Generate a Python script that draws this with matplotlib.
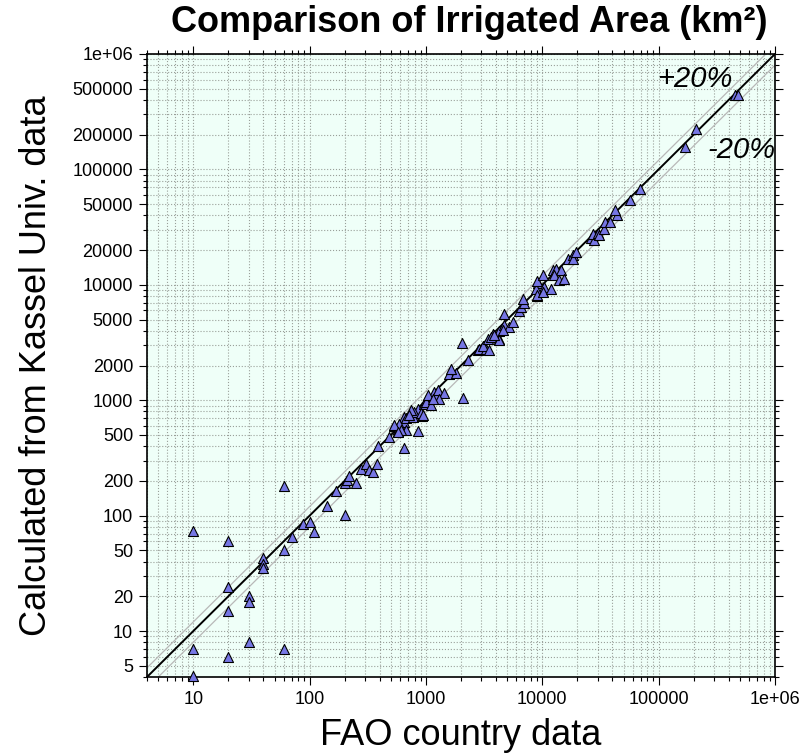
"""
Irrigated area per country: FAO statistics vs. values calculated from the
Kassel University global map of irrigation areas (log-log, with +-20% bands).
"""

import numpy as np
import matplotlib
matplotlib.use("Agg")
import matplotlib.pyplot as plt
import matplotlib.ticker as ticker

plt.rcParams["font.family"] = ["Liberation Sans", "DejaVu Sans"]

# --- data (km2) --------------------------------------------------------------
small_fao    = [10, 20, 60, 20, 30, 30, 20, 40, 40, 40, 60, 70, 88, 100, 110,
                140, 170, 200, 200, 210, 250, 10, 20, 30, 60, 10]
small_kassel = [74, 60, 180, 24, 20, 18, 15, 43, 38, 35, 50, 65, 84, 88, 72,
                121, 165, 102, 190, 203, 192, 7, 6, 8, 7, 4.1]

mid_fao    = [220, 276, 305, 325, 354, 383, 386, 483, 533, 570, 612, 580, 630,
              650, 650, 650, 672, 672, 743, 767, 847, 847, 924, 1000, 966, 1000,
              1100, 792, 743, 905, 935, 720, 592, 535, 612, 570]
mid_kassel = [221, 256, 279, 248, 239, 283, 400, 481, 596, 568, 606, 540, 620,
              717, 650, 382, 550, 695, 776, 717, 539, 848, 726, 1000, 935, 967,
              905, 792, 820, 776, 740, 740, 628, 606, 557, 533]

upper_fao    = [1180, 1300, 1220, 1050, 1260, 1440, 1300, 1140, 2080, 1590,
                1810, 1640, 2290, 2790, 2880, 3280, 3070, 2030, 3390, 4270,
                3750, 4270, 4720, 5210, 3510, 3630, 4220, 3870, 4560, 5560,
                4720, 6360, 6580, 7030, 6790, 8960]
upper_kassel = [1180, 1150, 1080, 1100, 1220, 1150, 1035, 1035, 1050, 1680,
                1720, 1880, 2220, 2710, 2800, 2800, 2940, 3160, 3420, 3420,
                3720, 4000, 4480, 4320, 2750, 3530, 3350, 3650, 4040, 4770,
                5630, 5930, 6420, 6950, 7590, 7940]

large_fao    = [9120, 10400, 8900, 9080, 10100, 11800, 8960, 10100, 12300,
                13200, 14500, 12700, 13800, 15500, 16600, 18300, 18300, 19300,
                26300, 28100, 27100, 30000, 30600, 33600, 34700, 37900, 43700,
                42300, 56200, 69800, 169000, 208000, 450000, 481000]
large_kassel = [10400, 9570, 9270, 8110, 8660, 9270, 10800, 12100, 13500,
                13800, 13500, 12100, 11100, 11300, 16900, 18000, 16900, 19200,
                25400, 24300, 27800, 28300, 26900, 30700, 35000, 35000, 40000,
                44800, 54000, 68100, 156000, 225000, 437000, 437000]

x_major = [10, 100, 1000, 10000, 100000, 1000000]
y_major = [5, 10, 20, 50, 100, 200, 500, 1000, 2000, 5000, 10000, 20000,
           50000, 100000, 200000, 500000, 1000000]

LIM = (4, 1e6)


def _fmt(v, pos=None):
    return "1e+06" if v >= 1e6 else f"{int(round(v))}"


def main():
    fao = np.array(small_fao + mid_fao + upper_fao + large_fao, dtype=float)
    kas = np.array(small_kassel + mid_kassel + upper_kassel + large_kassel, dtype=float)

    fig = plt.figure(figsize=(8.04, 7.53), dpi=100)
    ax = fig.add_axes([0.1828, 0.1009, 0.7811, 0.8274])
    ax.set_facecolor("#effff8")
    ax.set_xscale("log")
    ax.set_yscale("log")
    ax.set_xlim(*LIM)
    ax.set_ylim(*LIM)

    ref = np.array(LIM)
    ax.plot(ref, 1.2 * ref, color="#b8b8b8", lw=0.9, zorder=2)
    ax.plot(ref, 0.8 * ref, color="#b8b8b8", lw=0.9, zorder=2)
    ax.plot(ref, ref, color="black", lw=1.4, zorder=3)

    ax.scatter(fao, kas, marker="^", s=52, facecolor="#7676e4",
               edgecolor="black", linewidth=0.8, zorder=4, clip_on=False)

    ax.text(2.04e5, 6.1e5, "+20%", fontsize=21, style="italic",
            ha="center", va="center")
    ax.text(5.16e5, 1.46e5, "-20%", fontsize=21, style="italic",
            ha="center", va="center")

    # ticks
    ax.xaxis.set_major_locator(ticker.FixedLocator(x_major))
    ax.xaxis.set_minor_locator(ticker.LogLocator(base=10, subs=np.arange(2, 10), numticks=20))
    ax.xaxis.set_major_formatter(ticker.FuncFormatter(_fmt))
    ax.xaxis.set_minor_formatter(ticker.NullFormatter())

    y_minor = [m * 10.0 ** e for e in range(0, 6) for m in (3, 4, 6, 7, 8, 9)]
    ax.yaxis.set_major_locator(ticker.FixedLocator(y_major))
    ax.yaxis.set_minor_locator(ticker.FixedLocator(y_minor))
    ax.yaxis.set_major_formatter(ticker.FuncFormatter(_fmt))
    ax.yaxis.set_minor_formatter(ticker.NullFormatter())

    ax.tick_params(which="both", direction="out", top=True, right=True,
                   labelsize=13, width=0.8)
    ax.tick_params(which="major", length=6, pad=4)
    ax.tick_params(which="minor", length=3)

    ax.grid(True, which="both", ls=":", color="#9aa09a", lw=0.8, zorder=1)
    ax.set_axisbelow(True)
    for sp in ax.spines.values():
        sp.set_linewidth(1.2)

    ax.set_xlabel("FAO country data", fontsize=26, labelpad=7)
    ax.set_ylabel("Calculated from Kassel Univ. data", fontsize=26, labelpad=13)
    fig.text(0.584, 1 - 23 / 753, "Comparison of Irrigated Area (km²)",
             fontsize=26, fontweight="bold", ha="center", va="center")

    fig.savefig("out.png", dpi=100)


if __name__ == "__main__":
    main()
